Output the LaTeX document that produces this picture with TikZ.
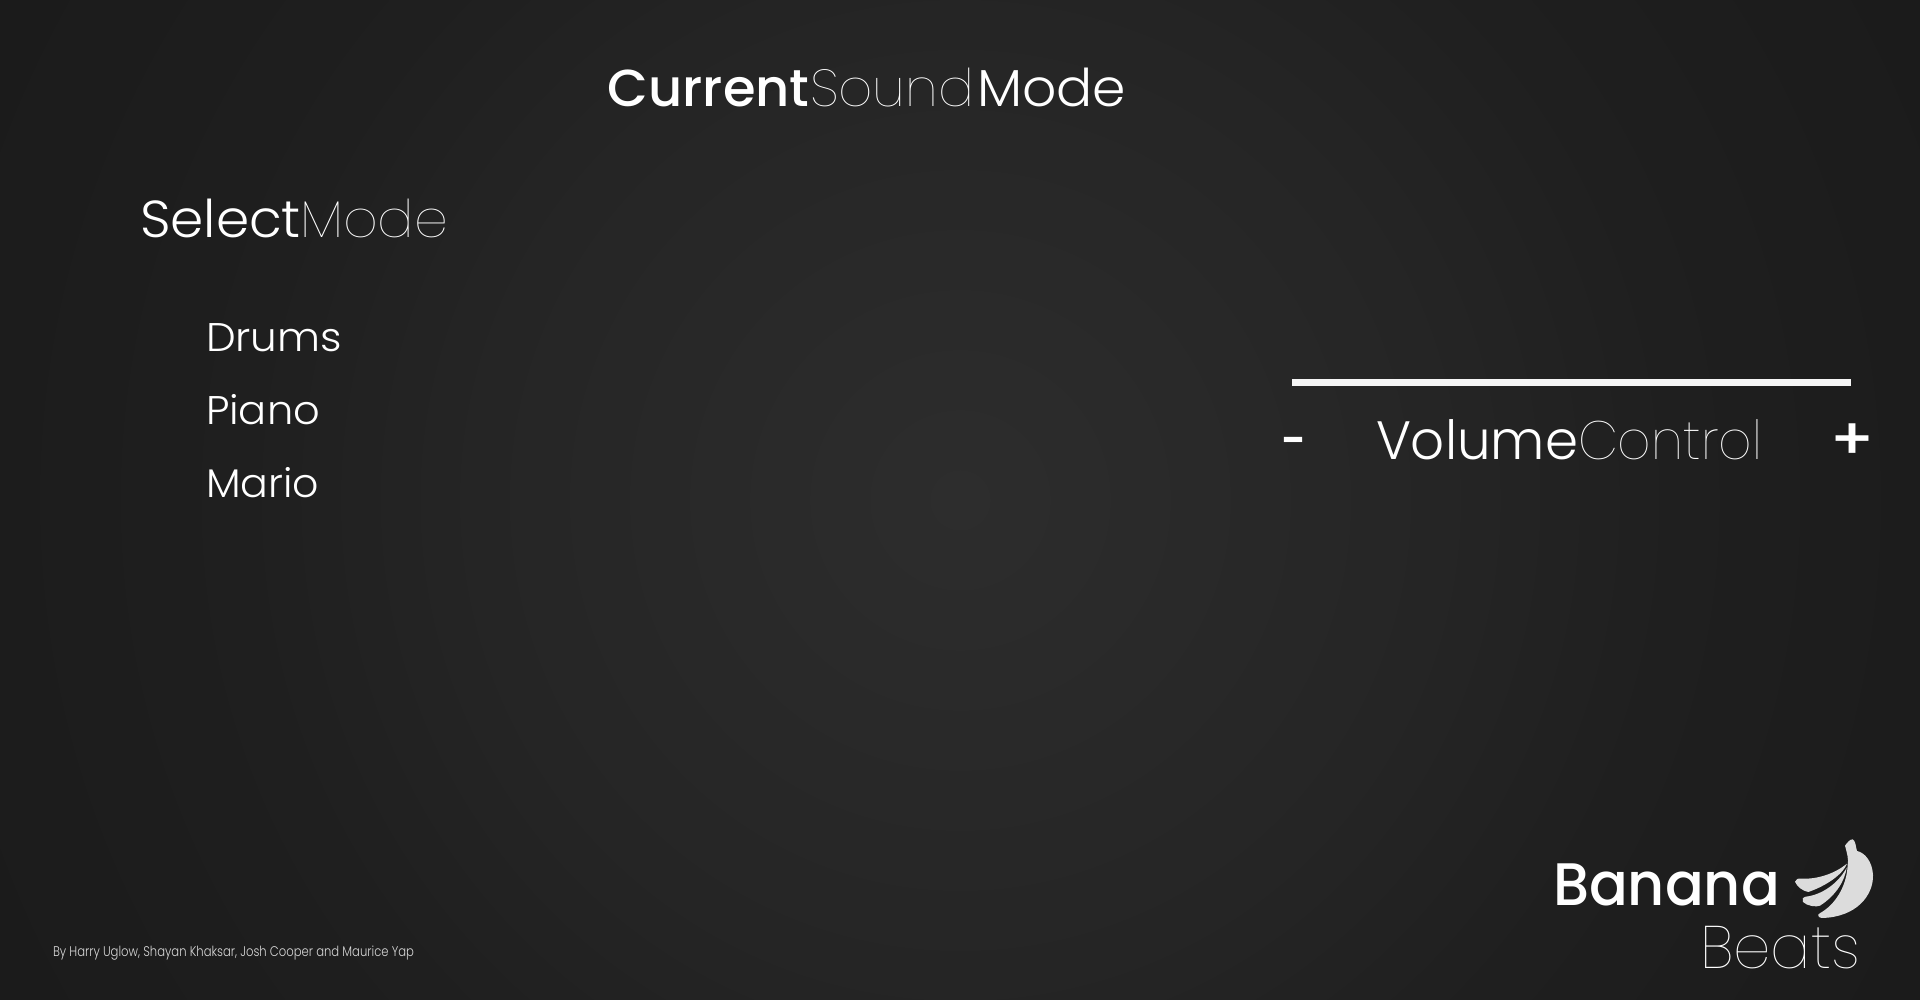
\documentclass[tikz,border=0pt]{standalone}
\usepackage{fontspec}
\usepackage{graphicx}
\setmainfont{Poppins}
\newfontfamily\fmed{Poppins Medium}
\newfontfamily\flt{Poppins Light}
\newfontfamily\fthin{Poppins Thin}
\newcommand{\fitw}[2]{\resizebox{#1pt}{\height}{#2}}
\definecolor{bga}{HTML}{2D2D2D}
\definecolor{bgb}{HTML}{252525}
\definecolor{bgc}{HTML}{1F1F1F}
\definecolor{bgd}{HTML}{1C1C1C}
\definecolor{bge}{HTML}{1B1B1B}
\definecolor{ink}{HTML}{FFFFFF}
\definecolor{bananac}{HTML}{DCDCDC}
\pgfdeclareradialshading{bgshade}{\pgfpoint{0bp}{0bp}}{color(0bp)=(bga); color(11.1bp)=(bgb); color(16.6bp)=(bgc); color(22.2bp)=(bgd); color(25bp)=(bge); color(100bp)=(bge)}
\tikzset{word/.style={anchor=base west,inner sep=0pt,outer sep=0pt,text=ink}}
\begin{document}
\begin{tikzpicture}[x=1pt,y=-1pt]
\useasboundingbox (0,0) rectangle (1920,1000);
\begin{scope}
\clip (0,0) rectangle (1920,1000);
\path[shade,shading=bgshade] (960,500) circle [radius=1082];
\end{scope}
% title
\node[word] (t1) at (607.5,107) {\fitw{202}{\fontsize{52}{60}\fmed Current}};
\node[word] (t2) at (810,107) {\fitw{164}{\fontsize{52}{60}\fthin Sound}};
\node[word] (t3) at (977,107) {\fitw{149}{\fontsize{52}{60}\flt Mode}};
% select mode
\node[word] (s1) at (140,238) {\fitw{161}{\fontsize{52}{60}\flt Select}};
\node[word] (s2) at (300,238) {\fitw{148}{\fontsize{52}{60}\fthin Mode}};
\node[word] (m1) at (206,352) {\fitw{136}{\fontsize{40}{48}\flt Drums}};
\node[word] (m2) at (206,424) {\fitw{114}{\fontsize{40}{48}\flt Piano}};
\node[word] (m3) at (206,497) {\fitw{113}{\fontsize{40}{48}\flt Mario}};
% volume
\fill[ink!96!black] (1292,379) rectangle (1851,386);
\node[word] (v1) at (1376,459) {\fitw{202}{\fontsize{54}{60}\flt Volume}};
\node[word] (v2) at (1578,459) {\fitw{184}{\fontsize{54}{60}\fthin Control}};
\node[word] (vm) at (1280,459) {\fitw{26}{\fontsize{54}{60}\fmed -}};
\node[word] (vp) at (1829,459) {\fitw{46}{\fontsize{58}{60}\fmed +}};
% logo
\node[word] (b1) at (1553,905) {\fitw{227}{\fontsize{60}{66}\fmed Banana}};
\node[word] (b2) at (1700,968) {\fitw{160}{\fontsize{60}{66}\fthin Beats}};
\begin{scope}[shift={(1785,830)},x=0.3333pt,y=-0.3333pt]
\fill[bananac] (180,47) .. controls (188,36) and (195,28) .. (203,28) .. controls (212,32) and (212,50) .. (216,63) .. controls (240,68) and (262,95) .. (264,135) .. controls (266,195) and (215,262) .. (110,264) .. controls (98,262) and (97,254) .. (104,250) .. controls (150,225) and (185,170) .. (188,105) .. controls (192,90) and (185,65) .. (180,47) -- cycle;
\fill[bananac] (185,113) .. controls (180,150) and (155,195) .. (105,227) .. controls (95,232) and (65,228) .. (54,216) .. controls (50,208) and (53,203) .. (62,200) .. controls (110,195) and (160,160) .. (185,113) -- cycle;
\fill[bananac] (186,101) .. controls (175,130) and (130,165) .. (70,186) .. controls (55,184) and (35,170) .. (30,155) .. controls (32,146) and (40,145) .. (50,146) .. controls (100,148) and (150,130) .. (186,101) -- cycle;
\end{scope}
% footer
\node[word,text=ink!85!black] (f) at (53,956) {\fitw{361}{\fontsize{14}{17}\flt By Harry Uglow, Shayan Khaksar, Josh Cooper and Maurice Yap}};
\end{tikzpicture}
\end{document}
